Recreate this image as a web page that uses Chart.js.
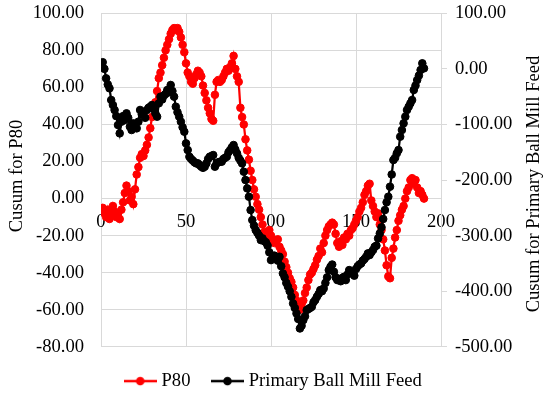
<!DOCTYPE html>
<html><head><meta charset="utf-8">
<script src="https://cdn.jsdelivr.net/npm/chart.js@4.4.0/dist/chart.umd.min.js"></script>
<style>html,body{margin:0;padding:0;background:#fff}#wrap{width:550px;height:394px}</style>
</head><body><div id="wrap"><canvas id="c" width="550" height="394"></canvas></div>
<script>
// ---- data ----
const sampleStart = 1; // first sample number on the x axis
const p80 = [
  -5, -8, -10, -6, -11, -9, -4, -7, -10, -8,
  -11, -6, -2, 3, 7, 4, -1, 1, -3, 5,
  13, 17, 22, 24, 23, 26, 29, 33, 38, 44,
  49, 52, 58, 65, 68, 72, 76, 80, 83, 86,
  89, 91, 92, 91, 92, 90, 87, 83, 79, 73,
  68, 66, 63, 62, 65, 67, 69, 68, 66, 61,
  57, 53, 49, 46, 43, 42, 56, 63, 64, 63,
  64, 66, 68, 70, 69, 71, 73, 77, 70, 66,
  63, 49, 44, 40, 32, 26, 21, 15, 10, 5,
  1, -3, -6, -10, -14, -18, -21, -19, -17, -20,
  -22, -24, -23, -22, -26, -28, -30, -34, -37, -40,
  -43, -45, -48, -52, -55, -58, -60, -57, -55, -51,
  -48, -44, -41, -40, -38, -36, -33, -31, -27, -29,
  -24, -20, -17, -15, -14, -13, -14, -19, -24, -26,
  -23, -25, -21, -22, -19, -20, -17, -16, -14, -12,
  -10, -7, -5, -2, 2, 4, 7, 8, -1, -4,
  -7, -10, -8, -14, -17, -22, -28, -36, -42, -43,
  -32, -27, -21, -17, -12, -9, -6, -4, 0, 4,
  6, 10, 11, 8, 10, 6, 3, 4, 2, 0
];
const millFeed = [
  12, 0, -17, -28, -35, -56, -65, -74, -85, -101,
  -116, -95, -85, -92, -80, -88, -104, -110, -98, -100,
  -107, -95, -74, -82, -78, -88, -74, -70, -68, -65,
  -72, -80, -86, -62, -50, -55, -48, -45, -38, -42,
  -29, -40, -50, -68, -78, -86, -95, -105, -113, -134,
  -146, -158, -162, -165, -168, -170, -170, -173, -176, -178,
  -176, -170, -162, -158, -157, -155, -176, -170, -168, -167,
  -167, -162, -160, -158, -150, -146, -141, -137, -145, -152,
  -160, -165, -170, -185, -200, -215, -230, -254, -272, -282,
  -290, -295, -300, -308, -305, -310, -312, -318, -330, -344,
  -340, -336, -338, -345, -338, -355, -368, -375, -385, -392,
  -400, -410, -422, -430, -440, -450, -467, -462, -452, -445,
  -434, -432, -430, -428, -420, -416, -410, -405, -398, -400,
  -395, -385, -375, -362, -356, -352, -365, -375, -380, -378,
  -382, -376, -374, -380, -370, -362, -366, -368, -372, -360,
  -355, -352, -350, -345, -342, -338, -332, -335, -330, -326,
  -320, -318, -305, -296, -285, -270, -254, -240, -230, -212,
  -190, -164, -160, -152, -146, -122, -110, -98, -86, -74,
  -68, -62, -56, -38, -30, -20, -12, -2, 10, 1
];
const xTicks = [0, 50, 100, 150, 200];
const leftTicks = [-80, -60, -40, -20, 0, 20, 40, 60, 80, 100];
const rightTicks = [-500, -400, -300, -200, -100, 0, 100];
const seriesNames = ['P80', 'Primary Ball Mill Feed'];
const leftTitle = 'Cusum for P80';
const rightTitle = 'Cusum for Primary Ball Mill Feed';

// ---- chart ----
const FONT = 'Liberation Serif';
const FS = 18.6;
const GRID = '#d9d9d9';

function legendIcon(color) {
  const c = document.createElement('canvas');
  c.width = 33; c.height = 12;
  const g = c.getContext('2d');
  g.strokeStyle = color; g.lineWidth = 2.5;
  g.beginPath(); g.moveTo(0, 6); g.lineTo(33, 6); g.stroke();
  g.fillStyle = color;
  g.beginPath(); g.arc(16.5, 6, 4.3, 0, Math.PI * 2); g.fill();
  return c;
}
const icons = { 'P80': legendIcon('#ff0000'), 'Primary Ball Mill Feed': legendIcon('#000000') };

const titlePlugin = {
  id: 'axisTitles',
  afterDraw(chart) {
    const ctx = chart.ctx;
    ctx.save();
    ctx.fillStyle = '#000';
    ctx.font = FS + 'px "' + FONT + '"';
    ctx.textAlign = 'center';
    ctx.textBaseline = 'middle';
    ctx.save(); ctx.translate(17, 176); ctx.rotate(-Math.PI / 2); ctx.fillText(leftTitle, 0, 0); ctx.restore();
    ctx.save(); ctx.translate(534, 184); ctx.rotate(-Math.PI / 2); ctx.fillText(rightTitle, 0, 0); ctx.restore();
    ctx.restore();
  }
};

const toXY = arr => arr.map((v, i) => ({ x: i + sampleStart, y: v }));
const noPad = s => { s.paddingTop = 0; s.paddingBottom = 0; };

new Chart(document.getElementById('c'), {
  type: 'line',
  data: {
    datasets: [
      {
        label: seriesNames[1], data: toXY(millFeed), yAxisID: 'y2',
        borderColor: '#000000', backgroundColor: '#000000',
        pointBackgroundColor: '#000000', pointBorderColor: '#000000',
        borderWidth: 2.25, pointRadius: 3.8, pointBorderWidth: 1, tension: 0
      },
      {
        label: seriesNames[0], data: toXY(p80), yAxisID: 'y',
        borderColor: '#ff0000', backgroundColor: '#ff0000',
        pointBackgroundColor: '#ff0000', pointBorderColor: '#ff0000',
        borderWidth: 2.25, pointRadius: 3.8, pointBorderWidth: 1, tension: 0
      }
    ]
  },
  options: {
    responsive: false, animation: false, devicePixelRatio: 1,
    layout: { padding: { top: 13.3, left: 0, right: 0, bottom: 0 } },
    scales: {
      x: {
        type: 'linear', min: 0, max: 200,
        position: { y: 0 },
        afterBuildTicks: s => { s.ticks = xTicks.map(v => ({ value: v })); },
        ticks: { font: { family: FONT, size: FS }, color: '#000', padding: 12, maxRotation: 0, autoSkip: false, callback: v => String(v) },
        grid: { color: GRID, lineWidth: 1, drawTicks: false },
        border: { display: false }
      },
      y: {
        type: 'linear', position: 'left', min: -80, max: 100,
        afterBuildTicks: s => { s.ticks = leftTicks.map(v => ({ value: v })); },
        afterFit: s => { s.width = 101; noPad(s); },
        ticks: { font: { family: FONT, size: FS }, color: '#000', padding: 17, callback: v => Number(v).toFixed(2) },
        grid: { color: GRID, lineWidth: 1, drawTicks: false },
        border: { display: false }
      },
      y2: {
        type: 'linear', position: 'right', min: -500, max: 100,
        afterBuildTicks: s => { s.ticks = rightTicks.map(v => ({ value: v })); },
        afterFit: s => { s.width = 109; noPad(s); },
        ticks: { font: { family: FONT, size: FS }, color: '#000', padding: 8, callback: v => Number(v).toFixed(2) },
        grid: { color: GRID, lineWidth: 1, drawOnChartArea: false, drawTicks: true, tickLength: 6 },
        border: { display: true, color: GRID }
      }
    },
    plugins: {
      tooltip: { enabled: false },
      legend: {
        position: 'bottom', reverse: true, maxHeight: 47.2,
        labels: {
          font: { family: FONT, size: FS }, color: '#000',
          usePointStyle: true, pointStyleWidth: 24, padding: 25,
          generateLabels(chart) {
            const items = Chart.defaults.plugins.legend.labels.generateLabels(chart);
            items.forEach(it => { it.pointStyle = icons[it.text]; });
            return items;
          }
        }
      }
    }
  },
  plugins: [titlePlugin]
});
</script>
</body></html>
